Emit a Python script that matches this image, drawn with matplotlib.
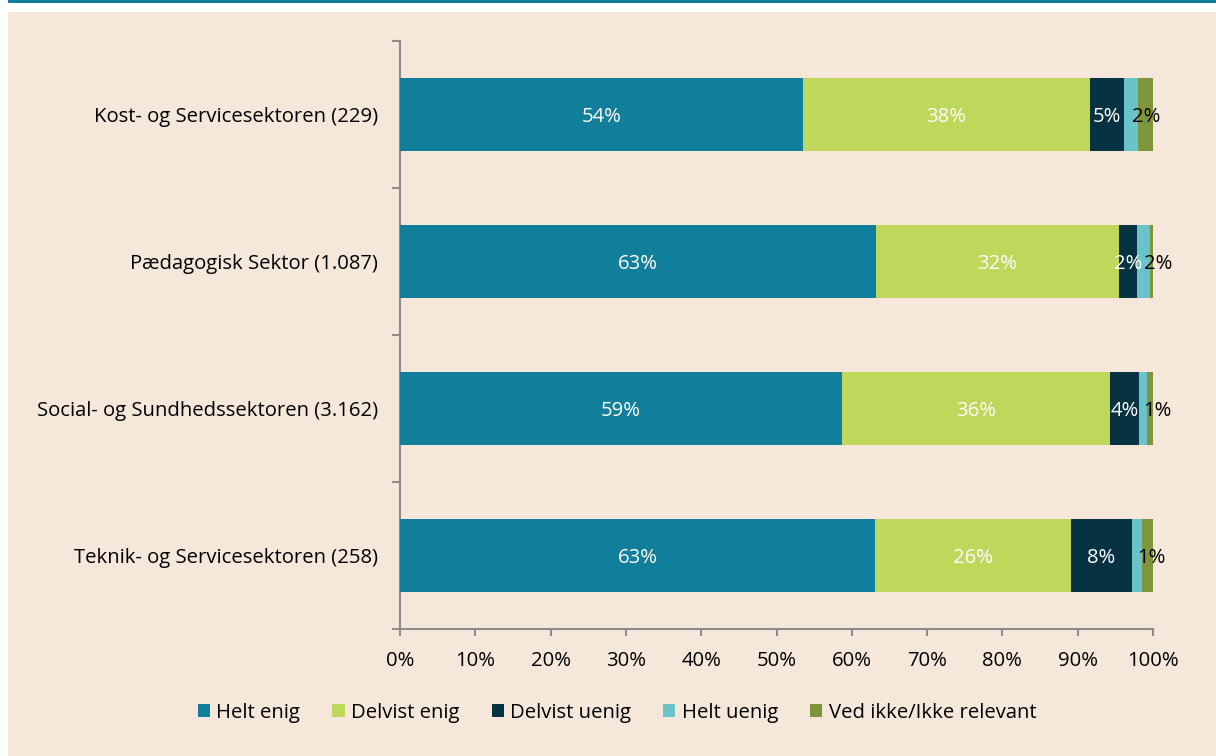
import matplotlib
matplotlib.use("Agg")
import matplotlib.pyplot as plt
from matplotlib.patches import Rectangle
import numpy as np

plt.rcParams['font.family'] = ['Open Sans', 'DejaVu Sans']

categories = ["Kost- og Servicesektoren (229)", "Pædagogisk Sektor (1.087)",
              "Social- og Sundhedssektoren (3.162)", "Teknik- og Servicesektoren (258)"]
series_names = ["Helt enig", "Delvist enig", "Delvist uenig", "Helt uenig", "Ved ikke/Ikke relevant"]
helt_enig = [53.5, 63.2, 58.7, 63.1]
delvist_enig = [38.1, 32.3, 35.6, 26.0]
delvist_uenig = [4.6, 2.4, 3.8, 8.1]
helt_uenig = [1.8, 1.7, 1.1, 1.3]
ved_ikke = [2.0, 0.4, 0.8, 1.5]
xticks = [0, 10, 20, 30, 40, 50, 60, 70, 80, 90, 100]

colors = ["#117f9c", "#bfd75a", "#063241", "#69c3c9", "#7e953b"]
label_colors = ["white", "white", "white", "black", None]
label_dx = [0, 0, 0, 15, 0]  # pixel offsets for labels
FS = 14.6
bg = "#f5e8da"
W, H = 1216, 756
fig = plt.figure(figsize=(W / 100, H / 100), dpi=100, facecolor="white")
fig.patches.append(Rectangle((8 / W, 0), 1 - 8 / W, 1 - 12 / H, transform=fig.transFigure,
                             facecolor=bg, edgecolor="none", zorder=-10))
fig.patches.append(Rectangle((8 / W, 1 - 3 / H), 1 - 8 / W, 3 / H, transform=fig.transFigure,
                             facecolor="#117f9c", edgecolor="none", zorder=-10))

ax = fig.add_axes([400 / W, 1 - 629 / H, (1153 - 400) / W, (629 - 41) / H])
ax.set_facecolor("none")

data = [helt_enig, delvist_enig, delvist_uenig, helt_uenig, ved_ikke]
y = np.arange(len(categories))
left = np.zeros(len(categories))
for i, (vals, name) in enumerate(zip(data, series_names)):
    vals = np.array(vals)
    bars = ax.barh(y, vals, left=left, height=0.5, color=colors[i], label=name, zorder=3)
    if label_colors[i] is not None:
        for j, b in enumerate(bars):
            cx = left[j] + vals[j] / 2
            ax.annotate(f"{round(vals[j]):.0f}%", (cx, y[j]), xytext=(label_dx[i] * 0.72, -2),
                        textcoords="offset points", ha="center", va="center",
                        color=label_colors[i], fontsize=FS, zorder=5)
    left = left + vals

ax.set_xlim(0, 100)
ax.set_ylim(len(categories) - 0.5, -0.5)
ax.set_xticks(xticks)
ax.set_xticklabels([f"{t}%" for t in xticks], fontsize=FS)
ax.set_yticks(y)
ax.set_yticklabels(categories, fontsize=FS)
ax.set_yticks(np.arange(-0.5, len(categories), 1.0), minor=True)
ax.tick_params(axis="y", which="major", length=0, pad=16)
ax.tick_params(axis="y", which="minor", length=6, width=1.5, color="#8c8c8c", direction="out")
ax.tick_params(axis="x", length=5, width=1.5, color="#8c8c8c", pad=11)
for s in ["top", "right"]:
    ax.spines[s].set_visible(False)
for s in ["left", "bottom"]:
    ax.spines[s].set_color("#8c8c8c")
    ax.spines[s].set_linewidth(1.5)

leg = fig.legend(loc="center", bbox_to_anchor=(617 / W, 1 - 713 / H), ncol=5, frameon=False,
                 fontsize=FS, handlelength=0.6, handleheight=0.6, handletextpad=0.3,
                 columnspacing=1.6)

fig.savefig("out.png", dpi=100, facecolor="white")
